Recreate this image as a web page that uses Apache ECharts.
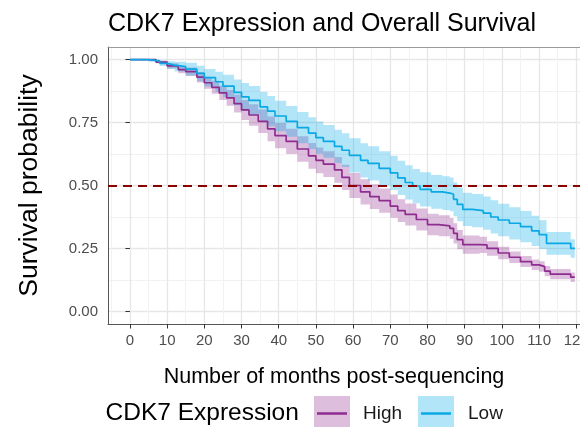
<!DOCTYPE html>
<html><head><meta charset="utf-8">
<script src="https://cdn.jsdelivr.net/npm/echarts@6/dist/echarts.min.js"></script>
<style>html,body{margin:0;padding:0;background:#fff}#c{width:580px;height:427px}</style>
</head><body><div id="c"></div>
<script>
const chartTitle = 'CDK7 Expression and Overall Survival';
const xTitle = 'Number of months post-sequencing';
const yTitle = 'Survival probability';
const legendTitle = 'CDK7 Expression';
const groupNames = ['High', 'Low'];

const xTickLabels = [0, 10, 20, 30, 40, 50, 60, 70, 80, 90, 100, 110, 120];
const yTickLabels = [0, 0.25, 0.5, 0.75, 1];
const medianLine = 0.5;

// High expression group (Kaplan-Meier step points)
const highTime  = [0, 7, 10, 13, 15, 18, 20, 22, 24, 26, 28, 30, 32, 34.5, 37, 39, 42, 45, 48, 50, 52, 55, 57, 59, 62, 64.5, 67, 70, 72, 74, 77, 80, 83, 86, 87, 88, 89.5, 94, 96, 99, 102, 105, 108, 110, 111.5, 113, 118.5];
const highSurv  = [1.000, .990, .975, .960, .952, .930, .908, .890, .868, .848, .825, .800, .780, .755, .725, .698, .675, .645, .618, .600, .585, .562, .532, .500, .475, .456, .440, .418, .400, .385, .365, .345, .340, .330, .310, .285, .265, .264, .250, .232, .215, .198, .185, .178, .160, .148, .136];
const highLower = [1.000, .985, .965, .946, .935, .909, .884, .864, .840, .817, .790, .760, .737, .708, .676, .648, .625, .594, .567, .549, .534, .511, .482, .450, .425, .407, .392, .372, .355, .341, .321, .302, .298, .289, .270, .247, .229, .232, .221, .207, .192, .176, .164, .157, .140, .128, .117];
const highUpper = [1.000, .995, .985, .974, .969, .951, .932, .916, .896, .879, .860, .840, .823, .802, .774, .748, .725, .696, .669, .651, .636, .613, .582, .550, .525, .505, .488, .464, .445, .429, .409, .388, .382, .371, .350, .323, .301, .296, .279, .257, .238, .220, .206, .199, .180, .168, .155];
const highEnd = 119.6;

// Low expression group
const lowTime  = [0, 5, 8, 10, 12, 15, 18, 20, 23, 25, 28, 30, 32, 35, 37, 39, 42, 45, 48, 50, 52, 55, 57, 59, 62, 64, 67, 70, 72, 74, 76, 78, 81, 84, 86, 87, 88, 89.5, 92, 95, 97, 99, 102, 105, 108, 110, 112, 118.5];
const lowSurv  = [1.000, .995, .985, .978, .972, .962, .945, .928, .912, .895, .870, .852, .838, .812, .795, .776, .755, .730, .708, .690, .675, .655, .640, .620, .600, .588, .568, .550, .530, .512, .498, .485, .475, .470, .465, .445, .425, .405, .400, .390, .375, .363, .350, .337, .320, .305, .270, .250];
const lowLower = [1.000, .991, .975, .963, .953, .937, .914, .893, .872, .850, .819, .797, .781, .752, .735, .715, .694, .668, .645, .626, .610, .589, .573, .552, .532, .520, .500, .482, .462, .444, .430, .417, .408, .403, .398, .378, .358, .339, .334, .324, .309, .298, .286, .275, .260, .248, .225, .213];
const lowUpper = [1.000, .999, .995, .993, .991, .987, .976, .963, .952, .940, .921, .907, .895, .872, .855, .837, .816, .792, .771, .754, .740, .721, .707, .688, .668, .656, .636, .618, .598, .580, .566, .553, .542, .537, .532, .512, .492, .471, .466, .456, .441, .428, .414, .399, .380, .362, .315, .287];
const lowEnd = 119.6;

const FONT = "'Liberation Sans', Arial, Helvetica, sans-serif";
const HIGH_LINE = '#8E2C8F';
const LOW_LINE = '#0AA8E4';
const HIGH_FILL = 'rgba(142,44,143,0.3)';
const LOW_FILL = 'rgba(0,169,230,0.3)';
const X_MIN = -5.9, X_MAX = 121;

function stepData(t, s, end) {
  const d = t.map((v, i) => [v, s[i]]);
  d.push([end, s[s.length - 1]]);
  return d;
}
function bandRenderer(t, lo, hi, end, fill) {
  return function (params, api) {
    const pts = [];
    for (let i = 0; i < t.length; i++) {
      const next = i + 1 < t.length ? t[i + 1] : end;
      pts.push(api.coord([t[i], hi[i]]));
      pts.push(api.coord([next, hi[i]]));
    }
    for (let i = t.length - 1; i >= 0; i--) {
      const next = i + 1 < t.length ? t[i + 1] : end;
      pts.push(api.coord([next, lo[i]]));
      pts.push(api.coord([t[i], lo[i]]));
    }
    return { type: 'polygon', shape: { points: pts }, style: { fill: fill, stroke: null } };
  };
}

const chart = echarts.init(document.getElementById('c'), null, { renderer: 'canvas' });
const labelStyle = { fontSize: 15, color: '#4D4D4D', fontFamily: FONT };
const majorGrid = { color: '#E6E6E6', width: 1.3 };
const minorGrid = { color: '#F2F2F2', width: 1 };

chart.setOption({
  animation: false,
  backgroundColor: '#fff',
  grid: [
    { left: 108, top: 47, width: 472, height: 277, show: false, containLabel: false, outerBoundsMode: 'none' },
    { left: 108, top: 59.5, width: 472, height: 252, show: false, containLabel: false, outerBoundsMode: 'none' }
  ],
  xAxis: [
    { gridIndex: 0, type: 'value', min: X_MIN, max: X_MAX, splitNumber: 13,
      axisLine: { show: true, onZero: false, lineStyle: { color: '#555', width: 1 } },
      axisTick: { show: true, length: 4.5, customValues: xTickLabels, lineStyle: { color: '#333' } },
      axisLabel: { customValues: xTickLabels, margin: 9, ...labelStyle },
      splitLine: { show: true, lineStyle: majorGrid },
      minorTick: { show: false, splitNumber: 2 },
      minorSplitLine: { show: true, lineStyle: minorGrid } },
    { gridIndex: 1, type: 'value', min: X_MIN, max: X_MAX, show: false },
    { gridIndex: 0, type: 'value', position: 'top', min: X_MIN, max: X_MAX,
      axisLine: { show: true, onZero: false, lineStyle: { color: '#9A9A9A', width: 1 } },
      axisTick: { show: false }, axisLabel: { show: false }, splitLine: { show: false } }
  ],
  yAxis: [
    { gridIndex: 0, type: 'value', min: -0.05, max: 1.05,
      axisLine: { show: true, onZero: false, lineStyle: { color: '#555', width: 1 } },
      axisTick: { show: false }, axisLabel: { show: false }, splitLine: { show: false } },
    { gridIndex: 1, type: 'value', min: yTickLabels[0], max: yTickLabels[yTickLabels.length - 1], interval: 0.25,
      axisLine: { show: false },
      axisTick: { show: true, length: 4.5, lineStyle: { color: '#333' } },
      axisLabel: { margin: 10, formatter: v => v.toFixed(2), ...labelStyle },
      splitLine: { show: true, lineStyle: majorGrid },
      minorTick: { show: false, splitNumber: 2 },
      minorSplitLine: { show: true, lineStyle: minorGrid } }
  ],
  series: [
    { type: 'custom', name: groupNames[0] + ' CI', xAxisIndex: 0, yAxisIndex: 0, silent: true, z: 1,
      data: [[0, 1]], renderItem: bandRenderer(highTime, highLower, highUpper, highEnd, HIGH_FILL) },
    { type: 'custom', name: groupNames[1] + ' CI', xAxisIndex: 0, yAxisIndex: 0, silent: true, z: 1,
      data: [[0, 1]], renderItem: bandRenderer(lowTime, lowLower, lowUpper, lowEnd, LOW_FILL) },
    { type: 'line', name: groupNames[0], xAxisIndex: 0, yAxisIndex: 0, step: 'end', symbol: 'none', z: 3,
      lineStyle: { color: HIGH_LINE, width: 1.7 }, data: stepData(highTime, highSurv, highEnd) },
    { type: 'line', name: groupNames[1], xAxisIndex: 0, yAxisIndex: 0, step: 'end', symbol: 'none', z: 3,
      lineStyle: { color: LOW_LINE, width: 1.7 }, data: stepData(lowTime, lowSurv, lowEnd),
      markLine: { silent: true, symbol: ['none', 'none'], label: { show: false },
        lineStyle: { color: '#8B0000', type: [9, 6], width: 1.8 }, data: [{ yAxis: medianLine }] } }
  ],
  graphic: [
    { type: 'text', x: 108, y: 24, style: { text: chartTitle, font: '25px ' + FONT, fill: '#000', textAlign: 'left', textVerticalAlign: 'middle', align: 'left', verticalAlign: 'middle' } },
    { type: 'text', x: 334, y: 377, style: { text: xTitle, font: '21.5px ' + FONT, fill: '#000', textAlign: 'center', textVerticalAlign: 'middle', align: 'center', verticalAlign: 'middle' } },
    { type: 'text', x: 30, y: 185.5, rotation: Math.PI / 2, style: { text: yTitle, font: '26.5px ' + FONT, fill: '#000', textAlign: 'center', textVerticalAlign: 'middle', align: 'center', verticalAlign: 'middle' } },
    { type: 'text', x: 105.5, y: 413, style: { text: legendTitle, font: '24.5px ' + FONT, fill: '#000', textAlign: 'left', textVerticalAlign: 'middle', align: 'left', verticalAlign: 'middle' } },
    { type: 'rect', shape: { x: 314, y: 396, width: 36, height: 36 }, style: { fill: HIGH_FILL } },
    { type: 'line', shape: { x1: 317, y1: 413.5, x2: 347, y2: 413.5 }, style: { stroke: HIGH_LINE, lineWidth: 2.5 } },
    { type: 'text', x: 363, y: 414, style: { text: groupNames[0], font: '19px ' + FONT, fill: '#1A1A1A', textAlign: 'left', textVerticalAlign: 'middle', align: 'left', verticalAlign: 'middle' } },
    { type: 'rect', shape: { x: 418, y: 396, width: 36, height: 36 }, style: { fill: LOW_FILL } },
    { type: 'line', shape: { x1: 421, y1: 413.5, x2: 451, y2: 413.5 }, style: { stroke: LOW_LINE, lineWidth: 2.5 } },
    { type: 'text', x: 468, y: 414, style: { text: groupNames[1], font: '19px ' + FONT, fill: '#1A1A1A', textAlign: 'left', textVerticalAlign: 'middle', align: 'left', verticalAlign: 'middle' } }
  ]
});
</script></body></html>
